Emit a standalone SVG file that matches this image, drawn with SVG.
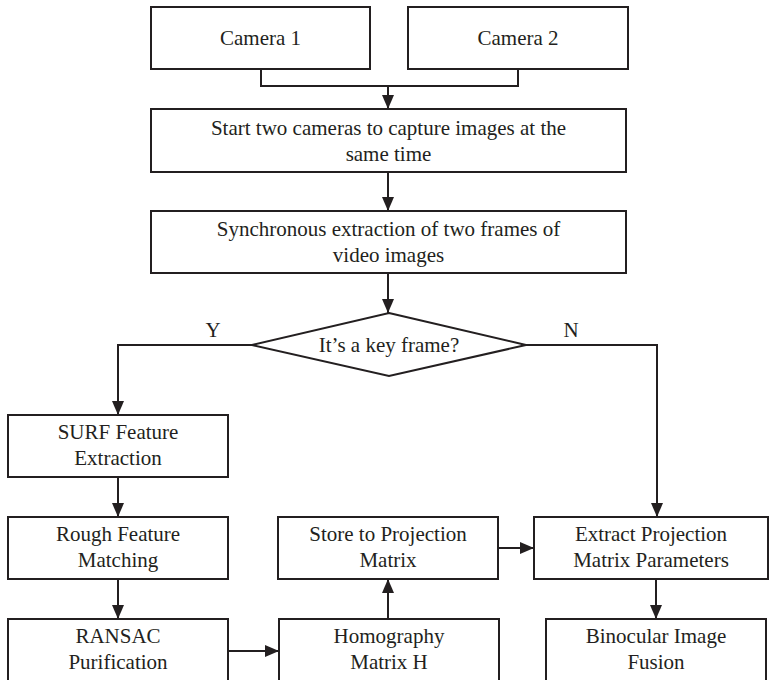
<svg xmlns="http://www.w3.org/2000/svg" width="769" height="680" viewBox="0 0 769 680">
<style>
.box{fill:#fff;stroke:#231f20;stroke-width:2}
.ln{fill:none;stroke:#231f20;stroke-width:2}
.t{font-family:"Liberation Serif","Times New Roman",serif;font-size:21px;fill:#231f20;text-anchor:middle}
</style>
<defs>
<marker id="ah" markerUnits="userSpaceOnUse" markerWidth="14" markerHeight="12" viewBox="0 0 14 12" refX="14" refY="6" orient="auto">
<path d="M0,0 L14,6 L0,12 z" fill="#231f20"/>
</marker>
</defs>
<rect width="769" height="680" fill="#fff"/>
<g id="connectors">
<path class="ln" d="M261,69 V86 H518 V69"/>
<path class="ln" d="M388,86 V109" marker-end="url(#ah)"/>
<path class="ln" d="M388,172 V211" marker-end="url(#ah)"/>
<path class="ln" d="M388,273 V313" marker-end="url(#ah)"/>
<path class="ln" d="M252,345 H118 V415" marker-end="url(#ah)"/>
<path class="ln" d="M526,345 H657 V517" marker-end="url(#ah)"/>
<path class="ln" d="M118,477 V517" marker-end="url(#ah)"/>
<path class="ln" d="M118,579 V619" marker-end="url(#ah)"/>
<path class="ln" d="M228,651 H279" marker-end="url(#ah)"/>
<path class="ln" d="M388,619 V579" marker-end="url(#ah)"/>
<path class="ln" d="M498,548 H534" marker-end="url(#ah)"/>
<path class="ln" d="M656,579 V619" marker-end="url(#ah)"/>
<text class="t" x="213" y="337">Y</text>
<text class="t" x="571" y="337">N</text>
</g>
<g id="camera1"><rect class="box" x="151" y="7" width="219" height="62"/><text class="t" x="260.5" y="45">Camera 1</text></g>
<g id="camera2"><rect class="box" x="408" y="7" width="220" height="62"/><text class="t" x="518" y="45">Camera 2</text></g>
<g id="start"><rect class="box" x="151" y="109" width="475" height="63"/><text class="t" x="388.5" y="135">Start two cameras to capture images at the</text><text class="t" x="388.5" y="161">same time</text></g>
<g id="sync"><rect class="box" x="151" y="211" width="475" height="62"/><text class="t" x="388.5" y="236">Synchronous extraction of two frames of</text><text class="t" x="388.5" y="262">video images</text></g>
<g id="decision"><path class="box" d="M389,313 L526,345 L389,376 L252,345 z"/><text class="t" x="389" y="352">It’s a key frame?</text></g>
<g id="surf"><rect class="box" x="8" y="415" width="220" height="62"/><text class="t" x="118" y="439">SURF Feature</text><text class="t" x="118" y="465">Extraction</text></g>
<g id="rough"><rect class="box" x="8" y="517" width="220" height="62"/><text class="t" x="118" y="541">Rough Feature</text><text class="t" x="118" y="567">Matching</text></g>
<g id="ransac"><rect class="box" x="8" y="619" width="220" height="75"/><text class="t" x="118" y="643">RANSAC</text><text class="t" x="118" y="669">Purification</text></g>
<g id="store"><rect class="box" x="278" y="517" width="220" height="62"/><text class="t" x="388" y="541">Store to Projection</text><text class="t" x="388" y="567">Matrix</text></g>
<g id="homography"><rect class="box" x="279" y="619" width="220" height="75"/><text class="t" x="389" y="643">Homography</text><text class="t" x="389" y="669">Matrix H</text></g>
<g id="extract"><rect class="box" x="534" y="517" width="234" height="62"/><text class="t" x="651" y="541">Extract Projection</text><text class="t" x="651" y="567">Matrix Parameters</text></g>
<g id="binocular"><rect class="box" x="546" y="619" width="220" height="75"/><text class="t" x="656" y="643">Binocular Image</text><text class="t" x="656" y="669">Fusion</text></g>
</svg>
